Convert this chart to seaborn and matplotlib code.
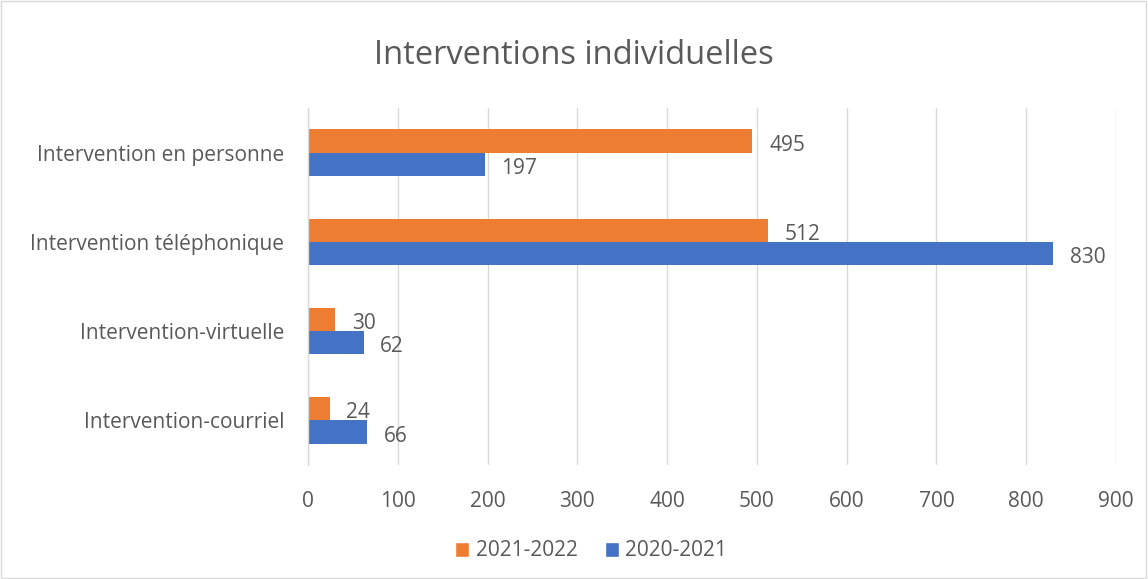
import matplotlib
matplotlib.use("Agg")
import matplotlib.pyplot as plt
import seaborn as sns
import pandas as pd
from matplotlib.patches import Rectangle, Patch

categories = ["Intervention en personne", "Intervention téléphonique",
              "Intervention-virtuelle", "Intervention-courriel"]
series_names = ["2021-2022", "2020-2021"]
values_2021_2022 = [495, 512, 30, 24]
values_2020_2021 = [197, 830, 62, 66]
colors = ["#ED7D31", "#4472C4"]
xticks = [0, 100, 200, 300, 400, 500, 600, 700, 800, 900]

rows = []
for c, v in zip(categories, values_2021_2022):
    rows.append({"cat": c, "serie": series_names[0], "val": v})
for c, v in zip(categories, values_2020_2021):
    rows.append({"cat": c, "serie": series_names[1], "val": v})
df = pd.DataFrame(rows)

sns.set_theme(style="white")
plt.rcParams['font.family'] = ['Open Sans', 'DejaVu Sans']
txt = "#595959"

fig = plt.figure(figsize=(11.48, 5.79), dpi=100)
ax = fig.add_axes([308/1148, 1-465/579, 808/1148, 357/579])

sns.barplot(data=df, y="cat", x="val", hue="serie", order=categories,
            hue_order=series_names, palette=colors, orient="h",
            width=0.52, ax=ax, legend=False, saturation=1, linewidth=0)

ax.set_xlim(0, 900)
ax.set_xticks(xticks)
ax.set_xticklabels([str(t) for t in xticks])
ax.grid(axis="x", color="#D9D9D9", linewidth=1)
ax.grid(axis="y", visible=False)
ax.set_axisbelow(True)
for s in ["top", "right", "bottom"]:
    ax.spines[s].set_visible(False)
ax.spines["left"].set_color("#D9D9D9")
ax.spines["left"].set_linewidth(1)
ax.set_xlabel("")
ax.set_ylabel("")
ax.tick_params(axis="x", length=0, pad=19, labelsize=15, labelcolor=txt)
ax.tick_params(axis="y", length=0, pad=17, labelsize=15, labelcolor=txt)

for cont in ax.containers:
    labels = ax.bar_label(cont, padding=12, fontsize=15, color=txt)
    for t in labels:
        x0, y0 = t.xyann
        t.xyann = (x0, y0 - 3)

fig.text(0.5, 1-56/579, "Interventions individuelles", ha="center", va="center",
         fontsize=23.5, color=txt)

handles = [Patch(facecolor=colors[0], label=series_names[0]),
           Patch(facecolor=colors[1], label=series_names[1])]
fig.legend(handles=handles, loc="center", bbox_to_anchor=(591/1148, 1-551/579),
           ncol=2, frameon=False, fontsize=15, labelcolor=txt,
           handlelength=0.7, handleheight=0.7, handletextpad=0.3, columnspacing=1.3)

fig.patches.append(Rectangle((0.001, 0.001), 0.997, 0.997, transform=fig.transFigure,
                             fill=False, edgecolor="#D9D9D9", linewidth=1))

fig.savefig("out.png", dpi=100)
